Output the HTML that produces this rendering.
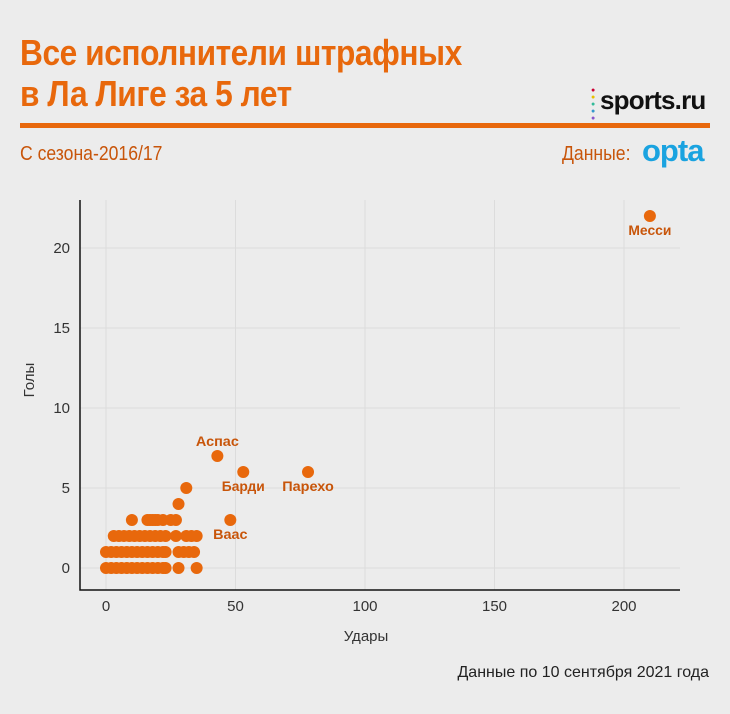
<!DOCTYPE html>
<html><head><meta charset="utf-8">
<style>
body{margin:0;background:#ececec;width:730px;height:714px;overflow:hidden;font-family:"Liberation Sans",sans-serif;}
.title{position:absolute;left:20px;top:32px;color:#e8680c;font-weight:bold;font-size:36px;line-height:41px;letter-spacing:-0.5px;transform:scaleX(0.88);transform-origin:0 0;white-space:nowrap;}
.rule{position:absolute;left:20px;top:123px;width:690px;height:5px;background:#e8680c;}
.sub{position:absolute;left:20px;top:143px;color:#c8550a;font-size:20px;transform:scaleX(0.88);transform-origin:0 0;white-space:nowrap;}
.src{position:absolute;left:562px;top:143px;color:#c8550a;font-size:20px;transform:scaleX(0.88);transform-origin:0 0;white-space:nowrap;}
.opta{position:absolute;left:642px;top:133px;color:#1aa3e0;font-weight:bold;font-size:31px;letter-spacing:-1px;}
.logo{position:absolute;left:600px;top:85px;font-weight:bold;font-size:26px;color:#111;letter-spacing:-0.8px;}
.foot{position:absolute;right:21px;top:664px;font-size:16px;color:#222;}
</style></head><body>
<div class="title">Все исполнители штрафных<br>в Ла Лиге за 5 лет</div>
<div class="logo"><span style="position:absolute;left:-9px;top:2px;font-size:7px;line-height:7px;color:#c03">●<br><span style="color:#e8c000">●</span><br><span style="color:#3b9">●</span><br><span style="color:#39c">●</span><br><span style="color:#85c">●</span></span>sports.ru</div>
<div class="rule"></div>
<div class="sub">С сезона-2016/17</div>
<div class="src">Данные:</div>
<div class="opta">opta</div>
<svg id="chart" width="730" height="714" style="position:absolute;left:0;top:0"></svg>
<div class="foot">Данные по 10 сентября 2021 года</div>
<script>
const shots=[210,43,53,78,48,31,28,10,16,17,18,19,20,22,25,27,3,5,7,9,11,13,15,17,19,21,23,27,31,33,35,0,2,4,6,8,10,12,14,16,18,20,22,23,28,30,32,34,0,2,4,6,8,10,12,14,16,18,20,22,23,28,35];
const goals=[22,7,6,6,3,5,4,3,3,3,3,3,3,3,3,3,2,2,2,2,2,2,2,2,2,2,2,2,2,2,2,1,1,1,1,1,1,1,1,1,1,1,1,1,1,1,1,1,0,0,0,0,0,0,0,0,0,0,0,0,0,0,0];
const labels=[["Месси",0,19],["Аспас",0,-10],["Барди",0,19],["Парехо",0,19],["Ваас",0,19]];
const xTicks=[0,50,100,150,200], yTicks=[0,5,10,15,20];
const svg=document.getElementById('chart'),NS='http://www.w3.org/2000/svg';
const X=v=>106+v*2.59, Y=v=>568-v*16;
function mk(t,a){const e=document.createElementNS(NS,t);for(const k in a)e.setAttribute(k,a[k]);svg.appendChild(e);return e;}
xTicks.forEach(t=>{const g=mk('line',{x1:X(t),x2:X(t),y1:200,y2:590,stroke:'#dcdcdc'});

const l=mk('text',{x:X(t),y:611,'text-anchor':'middle','font-size':15,fill:'#333','font-family':'Liberation Sans'});l.textContent=t;
});
yTicks.forEach(t=>{const g=mk('line',{x1:80,x2:680,y1:Y(t),y2:Y(t),stroke:'#dcdcdc'});

const l=mk('text',{x:70,y:Y(t)+5,'text-anchor':'end','font-size':15,fill:'#333','font-family':'Liberation Sans'});l.textContent=t;
});
const ax=mk('path',{d:'M80 200V590H680',fill:'none',stroke:'#111','stroke-width':1.5});

const xt=mk('text',{x:366,y:641,'text-anchor':'middle','font-size':15,fill:'#333','font-family':'Liberation Sans'});xt.textContent='Удары';

const yt=mk('text',{x:34,y:380,'text-anchor':'middle','font-size':15,fill:'#333','font-family':'Liberation Sans',transform:'rotate(-90 34 380)'});yt.textContent='Голы';

shots.forEach((s,i)=>{const c=mk('circle',{cx:X(s),cy:Y(goals[i]),r:6,fill:'#e8680c'});
});
labels.forEach((l,i)=>{const t=mk('text',{x:X(shots[i])+l[1],y:Y(goals[i])+l[2],'text-anchor':'middle','font-size':14,'font-weight':'bold',fill:'#c8550a','font-family':'Liberation Sans',textLength:l[0].length*8.6,lengthAdjust:'spacingAndGlyphs'});t.textContent=l[0];
});
</script>
</body></html>
